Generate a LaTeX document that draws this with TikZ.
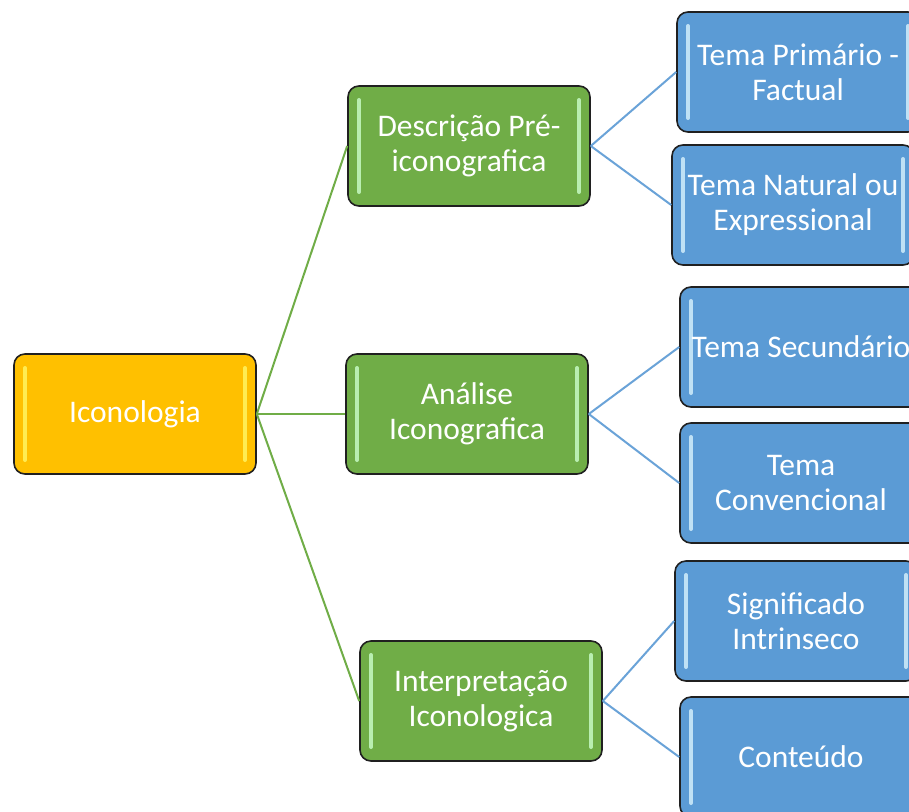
\documentclass[tikz,border=0pt]{standalone}
\usepackage{fontspec}
\setmainfont{Carlito}
\definecolor{orangebox}{HTML}{FFC000}
\definecolor{greenbox}{HTML}{70AD47}
\definecolor{bluebox}{HTML}{5B9BD5}
\definecolor{greenline}{HTML}{70AD47}
\definecolor{blueline}{HTML}{6AA3D8}
\definecolor{edgegray}{HTML}{202020}
\tikzset{
  x=1pt, y=-1pt,
  boxbase/.style={draw=edgegray, line width=1.6pt, rounded corners=11pt,
    minimum width=242pt, minimum height=120pt, align=center,
    text=white, font=\fontsize{31.5}{35}\selectfont, inner sep=2pt,
    path picture={
      \draw[line width=4pt, line cap=round, draw=#1, opacity=0.8]
        ([xshift=11pt,yshift=-14pt]path picture bounding box.north west) --
        ([xshift=11pt,yshift=14pt]path picture bounding box.south west);
      \draw[line width=4pt, line cap=round, draw=#1, opacity=0.8]
        ([xshift=-11pt,yshift=-14pt]path picture bounding box.north east) --
        ([xshift=-11pt,yshift=14pt]path picture bounding box.south east);
    }},
  rootbox/.style={boxbase=yellow!60!white, fill=orangebox},
  midbox/.style={boxbase=green!20!white, fill=greenbox},
  leafbox/.style={boxbase=cyan!15!white, fill=bluebox},
  gconn/.style={draw=greenline, line width=2pt},
  bconn/.style={draw=blueline, line width=2pt},
}
\begin{document}
\begin{tikzpicture}
\useasboundingbox (0,0) rectangle (909,811);
\fill[white] (0,0) rectangle (909,811);
\clip (0,0) rectangle (909,811);

\node[rootbox] (root) at (135,414) {Iconologia};

\node[midbox] (desc) at (469,146) {Descrição Pré-\\iconografica};
\node[midbox] (anal) at (467,414) {Análise\\Iconografica};
\node[midbox] (interp) at (481,701) {Interpretação\\Iconologica};

\node[leafbox] (t1) at (798,72) {Tema Primário -\\Factual};
\node[leafbox] (t2) at (793,205) {Tema Natural ou\\Expressional};
\node[leafbox] (t3) at (801,347) {Tema Secundário};
\node[leafbox] (t4) at (801,483) {Tema\\Convencional};
\node[leafbox] (t5) at (796,621) {Significado\\Intrinseco};
\node[leafbox] (t6) at (801,757) {Conteúdo};

\draw[gconn] (root.east) -- (desc.west);
\draw[gconn] (root.east) -- (anal.west);
\draw[gconn] (root.east) -- (interp.west);

\draw[bconn] (desc.east) -- (t1.west);
\draw[bconn] (desc.east) -- (t2.west);
\draw[bconn] (anal.east) -- (t3.west);
\draw[bconn] (anal.east) -- (t4.west);
\draw[bconn] (interp.east) -- (t5.west);
\draw[bconn] (interp.east) -- (t6.west);
\end{tikzpicture}
\end{document}
